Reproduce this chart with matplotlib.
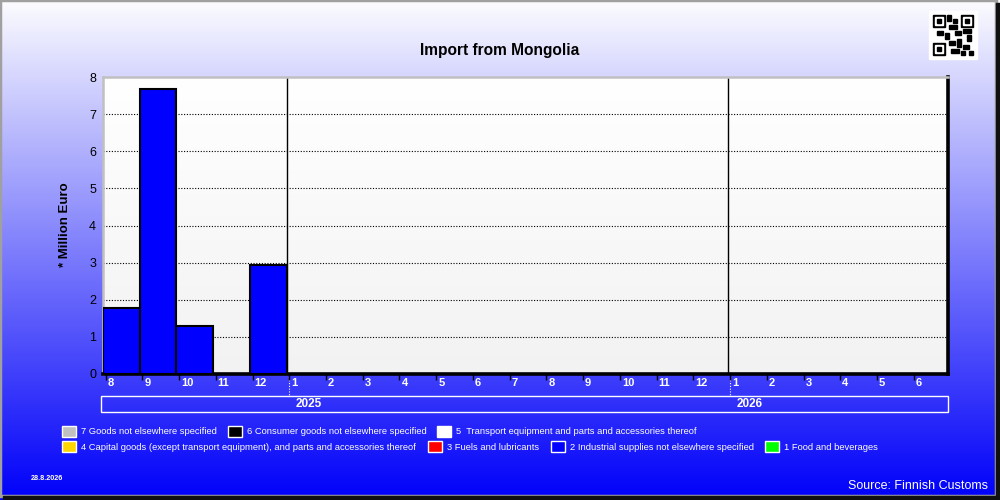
import matplotlib.pyplot as plt
import matplotlib.patches as mpatches
import numpy as np

# months shown on the axis (Aug 2024 .. Jun 2026)
months = [8, 9, 10, 11, 12, 1, 2, 3, 4, 5, 6, 7, 8, 9, 10, 11, 12, 1, 2, 3, 4, 5, 6]
values = [1.77, 7.69, 1.28, 0, 2.94] + [0] * 18   # million euro, industrial supplies
years = ['2025', '2026']
year_start = [5, 17]   # slot index where each year begins

legend_labels = ['7 Goods not elsewhere specified', '6 Consumer goods not elsewhere specified',
                 '5  Transport equipment and parts and accessories thereof',
                 '4 Capital goods (except transport equipment), and parts and accessories thereof',
                 '3 Fuels and lubricants', '2 Industrial supplies not elsewhere specified',
                 '1 Food and beverages']
legend_colors = ['#c0c0c0', '#000000', '#ffffff', '#ffd700', '#ff0000', '#0000ff', '#00ff00']
legend_pos = [(62, 432), (228, 432), (437, 432), (62, 447), (428, 447), (551, 447), (765, 447)]

W, H = 1000, 500
fig = plt.figure(figsize=(10, 5), dpi=100)

# background gradient
bg = fig.add_axes([0, 0, 1, 1], zorder=-10)
t = np.linspace(0, 1, 256)[:, None]
top = np.array([252, 252, 255]) / 255
bot = np.array([0, 0, 250]) / 255
grad = top[None, None, :] * (1 - t[:, :, None]) + bot[None, None, :] * t[:, :, None]
bg.imshow(np.repeat(grad, 2, axis=1), aspect='auto', extent=[0, W, H, 0])
bg.set_xlim(0, W)
bg.set_ylim(H, 0)
bg.axis('off')

# frame with shadow
bg.add_patch(mpatches.Rectangle((0, 0), W - 4, H - 4, fill=False, ec='#a0a0a0', lw=2.5))
bg.add_patch(mpatches.Rectangle((W - 4, 3), 4, H, color='#101010'))
bg.add_patch(mpatches.Rectangle((3, H - 4), W, 4, color='#101010'))

# fake qr code
bg.add_patch(mpatches.Rectangle((929, 11), 48, 48, color='white'))
for (qx, qy) in [(933, 15), (961, 15), (933, 43)]:
    bg.add_patch(mpatches.Rectangle((qx, qy), 12, 12, color='black'))
    bg.add_patch(mpatches.Rectangle((qx + 2, qy + 2), 8, 8, color='white'))
    bg.add_patch(mpatches.Rectangle((qx + 4, qy + 4), 4, 4, color='black'))
for (qx, qy, qw, qh) in [(947, 15, 4, 6), (953, 19, 4, 4), (949, 25, 8, 4), (937, 31, 6, 4),
                         (945, 33, 4, 6), (955, 31, 6, 4), (963, 29, 8, 4), (967, 35, 4, 6),
                         (949, 41, 6, 4), (957, 39, 4, 8), (951, 49, 8, 4), (963, 45, 6, 4),
                         (969, 51, 4, 4), (961, 51, 4, 4)]:
    bg.add_patch(mpatches.Rectangle((qx, qy), qw, qh, color='black'))

bg.text(500, 50, 'Import from Mongolia', ha='center', va='center', fontsize=11.2,
        fontweight='bold', color='black', family='Liberation Sans')
bg.text(65, 225, '* Million Euro', ha='center', va='center', rotation=90, fontsize=9.5,
        fontweight='bold', color='black', family='Liberation Sans')
bg.text(31, 478, '28.8.2026', ha='left', va='center', fontsize=5.2, color='white',
        fontweight='bold', family='Liberation Sans')
bg.text(988, 486, 'Source: Finnish Customs', ha='right', va='center', fontsize=9,
        color='white', family='Liberation Sans')

# legend
for lab, col, (lx, ly) in zip(legend_labels, legend_colors, legend_pos):
    bg.add_patch(mpatches.Rectangle((lx, ly - 6), 14, 11, fc=col, ec='white', lw=1))
    bg.text(lx + 19, ly, lab, ha='left', va='center', fontsize=6.75, color='white',
            family='Liberation Sans')

# main plot area
x0, x1, y0, y1 = 103, 948, 77, 374
ax = fig.add_axes([x0 / W, 1 - y1 / H, (x1 - x0) / W, (y1 - y0) / H])
n = len(months)
pg = np.linspace(1, 0.95, 256)[:, None]
ax.imshow(np.repeat(np.dstack([pg, pg, pg]), 2, axis=1), aspect='auto',
          extent=[0, n, 0, 8], zorder=0)
ax.set_xlim(0, n)
ax.set_ylim(0, 8)

for yv in range(1, 8):
    ax.axhline(yv, color='black', lw=0.8, ls=(0, (1, 1.5)), zorder=1)
for ys in year_start:
    ax.axvline(ys, color='black', lw=1, zorder=1)

ax.bar(np.arange(n) + 0.5, values, width=1, color='#0000ff', edgecolor='black',
       linewidth=1.5, zorder=3)

for s in ['top', 'left']:
    ax.spines[s].set_color('#c0c0c0')
    ax.spines[s].set_linewidth(1.8)
for s in ['right', 'bottom']:
    ax.spines[s].set_color('black')
    ax.spines[s].set_linewidth(2.6)

ax.set_yticks(range(0, 9))
ax.set_yticklabels([str(v) for v in range(0, 9)], fontsize=9, family='Liberation Sans')
ax.tick_params(axis='y', length=0, pad=5)
ax.set_xticks(np.arange(n) + 0.07)
ax.set_xticklabels([])
ax.tick_params(axis='x', length=4, width=1, color='black', direction='out')

for i, m in enumerate(months):
    bg.text(x0 + (x1 - x0) * i / n + 4.5, 383, str(m), ha='left', va='center', fontsize=8,
            fontweight='bold', color='white', family='Liberation Sans')

# year band
bg.add_patch(mpatches.Rectangle((101, 396), 847, 16, fill=False, ec='white', lw=1))
for yr, ys in zip(years, year_start):
    xs = x0 + (x1 - x0) * ys / n
    bg.plot([xs + 2, xs + 2], [377, 395], color='white', lw=0.8, ls=(0, (1, 1.5)))
    bg.text(xs + 22, 404, yr, ha='center', va='center', fontsize=8.5, fontweight='bold',
            color='white', family='Liberation Sans')

fig.savefig('out.png', dpi=100)
